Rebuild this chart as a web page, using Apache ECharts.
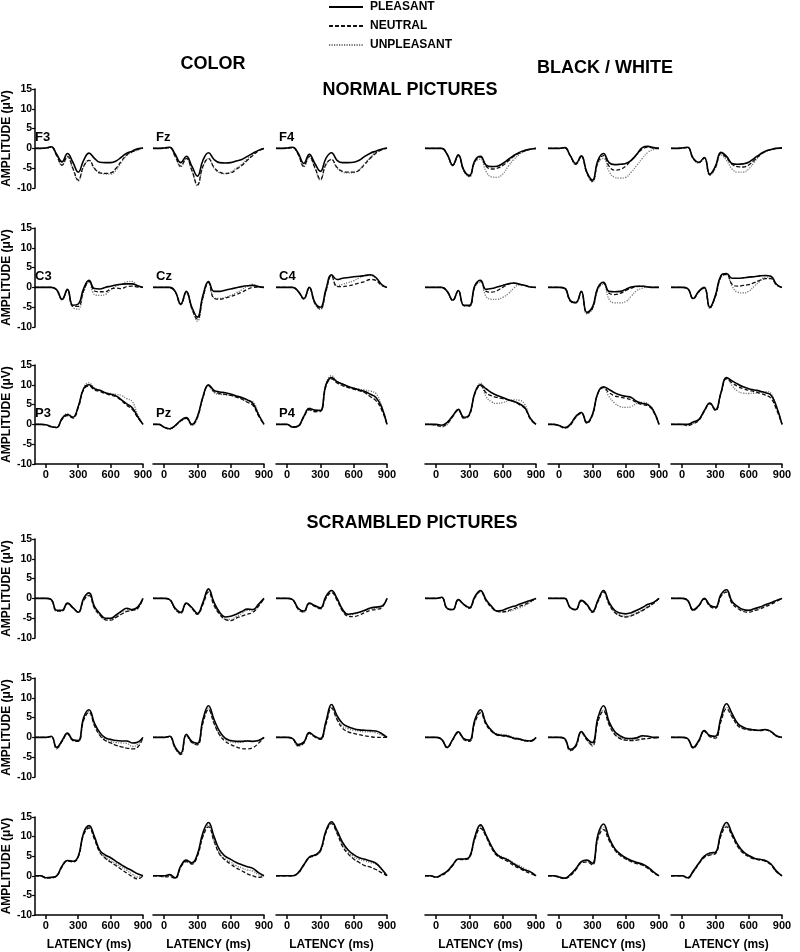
<!DOCTYPE html>
<html>
<head>
<meta charset="utf-8">
<script src="https://cdn.jsdelivr.net/npm/echarts@6/dist/echarts.min.js"></script>
<style>
  html, body { margin: 0; padding: 0; background: #fff; }
  #chart { width: 800px; height: 952px; }
</style>
</head>
<body>
<div id="chart"></div>
<script>
// latency samples (ms)
const latency = [-100, -50, 0, 50, 100, 150, 200, 250, 300, 350, 400, 450, 500, 550, 600, 650, 700, 750, 800, 850, 900]
const xTicks = [0, 300, 600, 900]
const conditions = ['PLEASANT', 'NEUTRAL', 'UNPLEASANT']
const electrodes = [['F3', 'Fz', 'F4'], ['C3', 'Cz', 'C4'], ['P3', 'Pz', 'P4']]

// each panel: [pleasant, neutral, unpleasant] amplitudes (µV)
// normal pictures, color
const normColF3 = [
  [0, 0, 0.1, 0.4, -1.5, -3.4, -1.3, -3.5, -6.0, -3.0, -1.2, -2.5, -3.5, -3.6, -3.6, -3.2, -2.2, -1.2, -0.7, -0.1, 0.1],
  [0, 0, 0.1, 0.3, -1.8, -4.2, -2.0, -5.0, -8.0, -4.5, -3.0, -5.0, -6.2, -6.3, -6.2, -5.0, -3.2, -1.6, -0.8, -0.3, 0.1],
  [0, 0, 0, 0.3, -1.8, -4.3, -2.2, -5.2, -8.2, -4.6, -3.0, -5.2, -6.0, -6.5, -6.5, -5.5, -3.5, -1.8, -1.0, -0.4, 0.1]
]
const normColFz = [
  [0, 0, 0.1, 0.3, -1.5, -3.6, -2.0, -4.5, -7.0, -3.0, -1.1, -2.8, -3.6, -3.7, -3.6, -3.2, -2.8, -2.0, -1.2, -0.5, 0],
  [0, 0, 0, 0.2, -2.0, -4.5, -2.5, -5.5, -9.2, -4.5, -2.6, -4.8, -6.0, -6.3, -6.2, -5.3, -4.3, -3.0, -1.8, -0.6, 0],
  [0, 0, 0, 0.2, -2.0, -4.6, -2.6, -5.7, -9.4, -4.7, -2.5, -5.0, -6.2, -6.4, -6.0, -5.0, -4.0, -2.6, -1.5, -0.5, 0]
]
const normColF4 = [
  [0, 0, 0.1, 0.3, -1.2, -3.8, -1.5, -3.8, -5.8, -2.5, -1.1, -3.0, -3.6, -3.6, -3.5, -3.0, -2.0, -1.2, -0.7, -0.2, 0.1],
  [0, 0, 0, 0.2, -1.5, -4.5, -2.0, -4.8, -7.8, -4.0, -2.8, -4.8, -5.8, -6.0, -6.0, -5.5, -4.0, -2.5, -1.2, -0.4, 0.1],
  [0, 0, 0, 0.2, -1.5, -4.6, -2.2, -5.0, -8.0, -4.2, -2.8, -5.0, -6.0, -6.2, -6.1, -5.3, -3.8, -2.2, -1.0, -0.3, 0.1]
]
const normColC3 = [
  [0, 0, 0, 0, -0.6, -3.0, -0.5, -4.5, -4.2, -0.3, 1.8, -0.3, -0.4, 0.0, 0.3, 0.6, 0.8, 0.9, 0.9, 0.4, 0],
  [0, 0, 0, 0, -0.6, -3.1, -0.6, -4.8, -4.8, -0.8, 1.5, -0.9, -1.1, -1.1, -0.4, -0.2, -0.3, 0.2, 0.3, 0.1, 0],
  [0, 0, 0, 0, -0.7, -3.2, -0.7, -5.0, -5.5, -1.2, 1.3, -1.8, -2.0, -1.8, -0.6, 0.3, 0.8, 1.4, 1.5, 0.3, 0]
]
const normColCz = [
  [0, 0, 0, 0, -1.0, -4.2, -1.0, -5.0, -7.5, -2.0, 1.5, -1.0, -1.0, -0.7, -0.4, -0.1, 0.2, 0.4, 0.5, 0.2, 0],
  [0, 0, 0, 0, -1.1, -4.3, -1.2, -5.3, -8.0, -2.5, 1.2, -2.8, -3.0, -2.7, -2.3, -1.8, -1.2, -0.5, 0, 0.1, 0],
  [0, 0, 0, 0, -1.2, -4.4, -1.3, -5.5, -8.5, -2.8, 1.3, -2.6, -2.8, -2.5, -2.0, -1.4, -0.6, 0.3, 0.8, 0.3, 0]
]
const normColC4 = [
  [0, 0, 0, 0, -1.0, -2.8, 0, -3.8, -5.0, -0.5, 3.2, 2.0, 2.3, 2.5, 2.7, 2.8, 3.0, 3.2, 2.5, 0.8, 0],
  [0, 0, 0, 0, -1.0, -2.9, -0.1, -4.0, -5.4, -0.9, 3.0, 0.2, 0.2, 0.4, 0.7, 1.1, 1.5, 2.0, 1.8, 0.5, 0],
  [0, 0, 0, 0, -1.1, -3.0, -0.2, -4.2, -5.6, -1.0, 3.0, 0.4, 0.8, 1.2, 1.7, 2.4, 2.9, 3.0, 2.3, 0.6, 0]
]
const normColP3 = [
  [0, 0, -0.1, -0.6, -0.8, 1.5, 2.5, 1.8, 4.5, 9.0, 10.0, 9.0, 8.6, 8.0, 7.6, 7.2, 6.2, 5.2, 4.2, 2.0, 0],
  [0, 0, -0.1, -0.6, -0.8, 1.3, 2.2, 1.6, 4.2, 8.8, 9.7, 8.7, 8.3, 7.8, 7.4, 7.0, 6.0, 4.8, 3.8, 1.8, 0],
  [0, 0, -0.1, -0.5, -0.7, 1.6, 2.7, 1.9, 4.6, 9.3, 10.5, 9.2, 8.5, 8.0, 7.8, 7.6, 7.3, 6.5, 5.8, 2.5, 0]
]
const normColPz = [
  [0, 0, -0.7, -1.1, -0.3, 1.0, 1.7, 0, 2.0, 7.0, 10.0, 8.6, 8.2, 8.0, 7.7, 7.2, 6.8, 6.2, 5.3, 2.5, 0],
  [0, 0, -0.7, -1.1, -0.3, 0.9, 1.5, -0.1, 1.8, 6.8, 9.8, 8.3, 7.8, 7.6, 7.3, 6.9, 6.4, 5.6, 4.8, 2.2, 0],
  [0, 0, -0.7, -1.2, -0.4, 0.8, 1.5, -0.3, 1.6, 6.8, 9.7, 8.0, 7.6, 7.5, 7.4, 7.0, 6.6, 6.0, 5.7, 2.8, 0]
]
const normColP4 = [
  [0, 0, 0, -0.7, -0.4, 2.0, 4.0, 3.6, 3.5, 10.0, 11.8, 10.8, 10.2, 9.6, 9.1, 8.7, 8.3, 7.6, 6.8, 4.5, 0],
  [0, 0, 0, -0.7, -0.5, 1.8, 3.7, 3.2, 3.3, 9.6, 11.5, 10.5, 9.8, 9.3, 8.9, 8.5, 8.0, 7.0, 6.0, 3.8, 0],
  [0, 0, 0, -0.6, -0.4, 2.1, 4.2, 3.5, 3.6, 10.2, 12.3, 10.9, 10.2, 9.6, 9.2, 8.9, 8.7, 8.4, 7.8, 4.8, 0]
]

// normal pictures, black / white
const normBwF3 = [
  [0, 0, 0, 0, -1.5, -4.2, -1.6, -5.5, -6.8, -3.0, -2.0, -4.2, -4.6, -4.5, -3.8, -2.8, -1.8, -1.0, -0.5, -0.2, 0],
  [0, 0, 0, 0, -1.5, -4.3, -1.8, -5.6, -7.0, -3.3, -2.2, -4.5, -5.2, -5.0, -4.3, -3.2, -2.0, -1.2, -0.6, -0.2, 0],
  [0, 0, 0, 0, -1.6, -4.4, -2.0, -5.8, -7.2, -3.5, -2.7, -5.8, -7.2, -7.3, -6.5, -4.5, -2.8, -1.5, -0.6, -0.2, 0]
]
const normBwFz = [
  [0, 0, 0, 0.2, -1.8, -3.8, -1.9, -6.0, -8.0, -3.0, -1.3, -3.6, -4.1, -4.0, -3.8, -3.0, -1.5, 0.2, 0.5, 0.2, 0],
  [0, 0, 0, 0.2, -1.8, -4.0, -2.0, -6.2, -8.3, -3.5, -1.8, -4.5, -5.5, -5.3, -4.5, -3.0, -1.5, -0.2, 0.3, 0.1, 0],
  [0, 0, 0, 0.2, -1.9, -4.1, -2.1, -6.3, -8.5, -3.8, -2.5, -5.8, -7.3, -7.5, -7.3, -6.0, -4.3, -2.5, -1.0, -0.3, 0]
]
const normBwF4 = [
  [0, 0, 0.1, 0.3, -2.5, -3.5, -2.3, -6.5, -4.5, -1.0, -2.0, -3.8, -4.0, -3.9, -3.5, -2.5, -1.5, -0.7, -0.3, 0, 0.1],
  [0, 0, 0.1, 0.2, -2.6, -3.6, -2.4, -6.7, -4.8, -1.3, -2.4, -4.0, -4.6, -4.7, -4.2, -3.0, -1.7, -0.8, -0.3, 0, 0.1],
  [0, 0, 0.1, 0.2, -2.6, -3.7, -2.5, -6.8, -5.0, -1.6, -3.0, -5.2, -6.0, -6.0, -5.2, -3.5, -1.8, -0.8, -0.3, 0, 0.1]
]
const normBwC3 = [
  [0, 0, 0, 0, -1.0, -3.2, -0.8, -4.5, -4.5, 0.5, 1.8, -0.5, -0.3, 0.1, 0.5, 0.9, 1.1, 0.8, 0.5, 0.1, 0],
  [0, 0, 0, 0, -1.0, -3.3, -0.9, -4.6, -4.7, 0.3, 1.6, -1.0, -1.2, -0.8, 0, 0.8, 1.1, 0.8, 0.5, 0.1, 0],
  [0, 0, 0, 0, -1.0, -3.3, -0.9, -4.7, -4.8, 0.2, 1.3, -2.3, -3.0, -3.0, -2.5, -1.6, -0.2, 0.6, 0.5, 0.1, 0]
]
const normBwCz = [
  [0, 0, 0, -0.2, -3.3, -3.8, -1.0, -6.3, -5.0, 0, 1.3, -1.0, -1.1, -1.0, -0.5, 0.1, 0.3, 0.3, 0.1, 0, 0],
  [0, 0, 0, -0.2, -3.4, -3.9, -1.1, -6.5, -5.3, -0.3, 1.1, -1.5, -1.8, -1.5, -0.8, -0.2, 0.2, 0.3, 0.1, 0, 0],
  [0, 0, 0, -0.2, -3.5, -4.0, -1.2, -6.7, -5.5, -0.5, 0.8, -3.0, -3.9, -3.9, -3.6, -2.2, -0.8, -0.2, 0, 0, 0]
]
const normBwC4 = [
  [0, 0, 0, -0.3, -2.8, -1.0, 0, -5.0, -2.0, 3.0, 3.5, 2.3, 2.3, 2.4, 2.6, 2.7, 2.9, 3.0, 2.8, 0.8, 0],
  [0, 0, 0, -0.3, -2.9, -1.1, -0.1, -5.1, -2.3, 2.7, 3.3, 0.8, 0.3, 0.5, 0.7, 1.2, 1.8, 2.2, 2.2, 0.6, 0],
  [0, 0, 0, -0.3, -2.9, -1.2, -0.2, -5.3, -2.5, 2.5, 3.2, 0.3, -1.2, -1.4, -1.0, 0.3, 1.5, 2.6, 2.6, 0.7, 0]
]
const normBwP3 = [
  [0, 0, 0, -0.2, 0.5, 2.2, 3.8, 1.8, 2.5, 8.0, 10.0, 9.0, 8.0, 7.3, 6.8, 6.2, 5.8, 5.2, 4.2, 1.5, 0],
  [0, 0, -0.2, -0.5, 0.2, 2.0, 3.6, 1.6, 2.3, 7.8, 9.8, 8.0, 7.2, 6.8, 6.5, 6.2, 5.8, 5.0, 4.0, 1.3, 0],
  [0, 0, -0.2, -0.6, 0, 2.0, 3.5, 1.5, 2.5, 8.2, 10.4, 7.0, 5.7, 5.3, 5.5, 6.0, 6.2, 6.1, 5.0, 1.5, 0]
]
const normBwPz = [
  [0, 0, -0.3, -0.8, 0, 2.0, 3.0, 0.5, 2.5, 8.0, 9.5, 8.8, 8.0, 7.4, 7.1, 6.8, 5.8, 5.3, 5.0, 3.5, 0],
  [0, 0, -0.3, -0.9, -0.2, 1.8, 2.8, 0.3, 2.3, 7.8, 9.3, 8.0, 7.2, 6.9, 6.6, 6.2, 5.5, 5.0, 4.7, 3.2, 0],
  [0, 0, -0.4, -1.0, -0.2, 1.8, 2.9, 0.3, 2.2, 8.0, 9.3, 7.0, 5.4, 4.5, 4.3, 4.5, 5.3, 5.6, 5.2, 3.5, 0]
]
const normBwP4 = [
  [0, 0, 0, 0, 0.6, 1.2, 3.5, 5.4, 3.7, 8.0, 11.8, 11.0, 10.2, 9.5, 9.0, 8.7, 8.4, 8.0, 7.4, 4.5, 0],
  [0, 0, 0, -0.3, 0.2, 1.0, 3.3, 5.2, 3.5, 7.8, 11.5, 10.5, 9.6, 9.0, 8.6, 8.3, 7.9, 7.4, 6.6, 3.8, 0],
  [0, 0, 0, -0.3, 0.3, 1.1, 3.4, 5.3, 3.6, 8.0, 11.8, 9.8, 8.4, 7.9, 7.8, 7.9, 8.0, 8.3, 7.8, 4.5, 0]
]

// scrambled pictures, color
const scrColF3 = [
  [0, 0, 0, -0.3, -3.0, -3.0, -1.2, -2.3, -3.5, 0, 1.4, -2.0, -3.8, -5.0, -5.0, -4.2, -3.2, -2.5, -2.8, -2.2, 0],
  [0, 0, 0, -0.3, -3.2, -3.2, -1.3, -2.4, -3.5, -0.5, 0.7, -2.5, -4.2, -5.4, -5.5, -4.8, -4.0, -3.3, -3.0, -2.6, 0],
  [0, 0, 0, -0.4, -3.3, -3.2, -1.3, -2.4, -3.5, -0.4, 0.9, -2.4, -4.2, -5.2, -5.2, -4.5, -3.5, -2.8, -3.0, -2.4, 0]
]
const scrColFz = [
  [0, 0, 0, -0.3, -2.5, -3.5, -1.2, -2.3, -3.8, -1.0, 2.4, -1.0, -3.5, -4.7, -4.5, -4.0, -3.3, -2.7, -2.8, -1.5, 0],
  [0, 0, 0, -0.3, -2.7, -3.7, -1.3, -2.5, -4.0, -1.5, 1.6, -1.8, -4.0, -5.3, -5.6, -5.0, -4.5, -4.0, -3.5, -2.0, 0],
  [0, 0, 0, -0.4, -2.8, -3.8, -1.3, -2.5, -4.0, -1.3, 2.0, -1.3, -4.0, -5.2, -5.3, -4.6, -3.8, -3.0, -3.2, -1.8, 0]
]
const scrColF4 = [
  [0, 0, 0, -0.3, -2.5, -3.2, -1.2, -1.8, -2.4, 0.5, 2.0, 0, -2.8, -4.0, -3.8, -3.5, -3.0, -2.4, -2.2, -2.0, 0],
  [0, 0, 0, -0.4, -2.7, -3.4, -1.3, -2.0, -2.6, 0, 1.5, -0.5, -3.2, -4.5, -4.6, -4.2, -3.6, -3.0, -2.8, -2.4, 0],
  [0, 0, 0, -0.4, -2.8, -3.5, -1.3, -1.9, -2.6, 0.2, 1.7, -0.3, -3.0, -4.2, -4.0, -3.6, -3.1, -2.6, -2.5, -2.1, 0]
]
const scrColC3 = [
  [0, 0, 0, 0.3, -2.5, -0.8, 1.1, -0.6, -0.8, 5.0, 7.0, 3.6, 1.2, -0.1, -0.5, -0.8, -0.9, -0.9, -1.4, -1.2, 0],
  [0, 0, 0, 0.2, -2.8, -1.0, 0.9, -0.8, -1.0, 4.3, 6.3, 3.0, 0.5, -0.8, -1.4, -2.0, -2.4, -2.7, -2.9, -2.5, 0],
  [0, 0, 0, 0.2, -2.9, -1.1, 0.8, -0.8, -1.0, 4.5, 6.5, 3.0, 0.7, -0.5, -1.0, -1.3, -1.4, -1.5, -2.3, -1.8, 0]
]
const scrColCz = [
  [0, 0, 0, 0.3, -2.5, -4.0, 0.8, -1.0, -1.5, 4.5, 8.0, 4.5, 1.5, -0.2, -0.8, -1.0, -1.0, -0.9, -1.0, -0.8, 0],
  [0, 0, 0, 0.2, -2.7, -4.3, 0.6, -1.3, -1.9, 3.6, 7.0, 3.5, 0.6, -1.0, -1.8, -2.4, -2.8, -2.9, -2.6, -1.5, 0],
  [0, 0, 0, 0.2, -2.8, -4.4, 0.5, -1.3, -1.8, 4.0, 7.3, 3.6, 0.8, -0.5, -1.1, -1.3, -1.2, -0.8, -1.0, -0.8, 0]
]
const scrColC4 = [
  [0, 0, 0, -0.3, -1.8, -1.2, 1.2, 0.3, -0.3, 4.0, 8.3, 5.5, 3.5, 2.7, 2.2, 1.9, 1.8, 1.7, 1.6, 1.0, 0],
  [0, 0, 0, -0.4, -2.1, -1.4, 1.0, 0.1, -0.5, 3.3, 7.4, 4.5, 2.3, 1.4, 1.0, 0.7, 0.4, 0.2, 0, 0, 0],
  [0, 0, 0, -0.4, -2.2, -1.5, 0.9, 0.1, -0.5, 3.5, 7.7, 4.8, 2.8, 2.2, 1.8, 1.6, 1.4, 1.4, 1.2, 0.6, 0]
]
const scrColP3 = [
  [0, 0, -0.5, -0.4, 0, 2.5, 3.9, 3.7, 5.0, 11.0, 12.8, 10.0, 6.5, 5.3, 4.6, 3.7, 2.8, 2.0, 1.3, 0.5, 0],
  [0, 0, -0.4, -0.5, -0.1, 2.3, 3.8, 3.5, 4.8, 10.5, 12.2, 9.3, 6.0, 4.5, 3.5, 2.6, 1.6, 0.7, -0.2, -0.8, 0],
  [0, 0, -0.6, -0.5, 0, 2.4, 3.8, 3.6, 4.9, 10.7, 12.5, 9.6, 6.0, 4.8, 3.9, 3.1, 2.2, 1.4, 0.4, -0.3, 0]
]
const scrColPz = [
  [0, 0, 0, 0.3, -0.5, 2.5, 4.0, 3.3, 5.5, 11.0, 13.6, 10.0, 6.6, 5.0, 4.2, 3.4, 2.8, 2.3, 1.9, 0.8, 0],
  [0, 0, -0.3, -0.2, -0.7, 2.2, 3.6, 3.0, 5.0, 10.0, 12.5, 8.8, 5.5, 4.0, 3.0, 2.0, 1.3, 0.5, 0, -0.4, 0],
  [0, 0, -0.2, 0, -0.6, 2.3, 3.8, 3.1, 5.2, 10.4, 13.0, 9.0, 5.8, 4.3, 3.5, 2.6, 2.0, 1.5, 1.2, 0.3, 0]
]
const scrColP4 = [
  [0, 0, 0, 0, 0.8, 2.8, 4.8, 5.3, 6.5, 11.5, 13.8, 11.5, 8.5, 6.6, 5.4, 4.6, 4.2, 3.8, 3.2, 1.8, 0],
  [0, 0, 0, 0, 0.7, 2.7, 4.6, 5.1, 6.3, 11.0, 13.3, 10.8, 7.5, 5.6, 4.3, 3.4, 2.6, 2.2, 1.6, 0.8, 0],
  [0, 0, 0, 0, 0.6, 2.6, 4.6, 5.2, 6.3, 11.2, 13.4, 11.0, 8.0, 6.0, 4.9, 4.2, 3.8, 3.4, 3.0, 1.6, 0]
]

// scrambled pictures, black / white
const scrBwF3 = [
  [0, 0, 0, 0.3, -2.5, -2.8, -0.3, -1.5, -2.3, 0.5, 2.0, -0.3, -2.0, -3.2, -3.0, -2.4, -2.0, -1.5, -1.0, -0.5, 0],
  [0, 0, 0, 0.2, -2.6, -2.9, -0.4, -1.6, -2.5, 0.2, 1.7, -0.6, -2.3, -3.3, -3.4, -3.1, -2.6, -2.0, -1.5, -0.8, 0],
  [0, 0, 0, 0.2, -2.6, -2.9, -0.4, -1.6, -2.5, 0.3, 1.8, -0.5, -2.2, -3.3, -3.4, -3.3, -2.9, -2.4, -1.8, -1.0, 0]
]
const scrBwFz = [
  [0, 0, 0, 0, -2.3, -2.8, -0.5, -1.5, -3.3, -0.5, 2.0, -1.0, -3.0, -3.7, -3.9, -3.6, -3.0, -2.3, -1.5, -1.0, 0],
  [0, 0, 0, 0, -2.4, -2.9, -0.6, -1.7, -3.5, -0.8, 1.6, -1.5, -3.5, -4.4, -4.7, -4.4, -3.8, -3.1, -2.2, -1.3, 0],
  [0, 0, 0, 0, -2.4, -2.9, -0.6, -1.7, -3.5, -0.7, 1.8, -1.3, -3.4, -4.2, -4.5, -4.2, -3.6, -2.9, -2.0, -1.2, 0]
]
const scrBwF4 = [
  [0, 0, 0, -0.5, -2.9, -1.8, 0, -1.7, -2.2, 1.0, 2.2, -0.8, -2.0, -2.8, -3.0, -2.6, -2.2, -1.6, -1.1, -0.5, 0],
  [0, 0, 0, -0.5, -3.0, -1.9, -0.2, -2.0, -2.5, 0.5, 1.6, -1.3, -2.5, -3.3, -3.5, -3.1, -2.7, -2.1, -1.5, -0.8, 0],
  [0, 0, 0, -0.5, -3.0, -1.9, -0.1, -1.8, -2.4, 0.7, 1.9, -1.0, -2.3, -3.1, -3.2, -2.9, -2.5, -1.9, -1.3, -0.6, 0]
]
const scrBwC3 = [
  [0, 0, 0, -0.5, -2.5, -0.5, 1.4, -0.3, -0.7, 4.5, 7.0, 3.6, 1.7, 0.7, 0.5, 0.3, -0.2, -0.4, -0.8, -0.9, 0],
  [0, 0, 0, -0.5, -2.6, -0.6, 1.2, -0.5, -1.0, 3.8, 6.2, 3.2, 1.5, 0.6, 0.4, 0.2, -0.3, -0.5, -0.9, -1.0, 0],
  [0, 0, 0, -0.5, -2.6, -0.6, 1.2, -0.5, -1.0, 4.0, 6.6, 3.6, 1.9, 0.9, 0.7, 0.5, 0, -0.3, -0.7, -0.8, 0]
]
const scrBwCz = [
  [0, 0, 0, -0.3, -3.0, -2.0, 1.5, -0.3, -1.3, 5.0, 8.0, 4.0, 1.5, 0.4, -0.2, -0.3, -0.1, 0.4, 0.3, 0, 0],
  [0, 0, 0, -0.4, -3.3, -2.3, 1.3, -0.6, -2.0, 4.0, 6.6, 3.2, 0.8, -0.3, -0.7, -0.8, -0.7, -0.4, -0.3, -0.1, 0],
  [0, 0, 0, -0.4, -3.4, -2.3, 1.2, -0.7, -2.2, 4.2, 6.9, 3.5, 1.0, 0, -0.5, -0.5, -0.3, 0.2, 0.3, 0, 0]
]
const scrBwC4 = [
  [0, 0, 0, -0.3, -2.5, -0.8, 1.7, 0.5, 0.3, 5.0, 8.5, 6.0, 3.6, 2.6, 2.1, 1.9, 1.8, 2.0, 1.5, 0.4, 0],
  [0, 0, 0, -0.4, -2.7, -1.0, 1.5, 0.2, -0.2, 4.0, 7.2, 5.2, 3.0, 2.2, 1.9, 1.8, 1.7, 1.9, 1.4, 0.3, 0],
  [0, 0, 0, -0.4, -2.7, -1.0, 1.5, 0.3, 0, 4.3, 7.6, 5.5, 3.3, 2.4, 2.0, 1.8, 1.7, 1.9, 1.4, 0.3, 0]
]
const scrBwP3 = [
  [0, 0, -0.3, 0.3, 1.2, 2.8, 4.3, 4.3, 4.8, 10.0, 13.0, 10.4, 7.5, 5.4, 4.6, 4.0, 3.0, 2.2, 1.5, 1.0, 0],
  [0, 0, -0.4, 0.1, 1.0, 2.6, 4.2, 4.1, 4.6, 9.4, 12.1, 10.0, 7.0, 5.1, 4.3, 3.6, 2.6, 1.9, 1.2, 0.6, 0],
  [0, 0, -0.4, 0.2, 1.1, 2.7, 4.2, 4.2, 4.7, 9.7, 12.5, 10.3, 7.4, 5.5, 4.8, 4.2, 3.3, 2.6, 1.8, 1.1, 0]
]
const scrBwPz = [
  [0, 0, -0.3, -0.6, 0.3, 1.8, 3.6, 4.0, 3.2, 10.5, 13.2, 9.7, 7.0, 5.6, 4.6, 3.9, 3.4, 3.0, 2.2, 1.0, 0],
  [0, 0, -0.4, -0.7, 0, 1.5, 3.3, 3.5, 2.8, 9.5, 11.8, 9.0, 6.6, 5.2, 4.3, 3.6, 3.1, 2.7, 1.9, 0.8, 0],
  [0, 0, -0.4, -0.6, 0.1, 1.6, 3.4, 3.8, 3.0, 10.0, 12.4, 9.4, 6.9, 5.5, 4.5, 3.8, 3.3, 2.9, 2.1, 0.9, 0]
]
const scrBwP4 = [
  [0, 0, 0, -0.5, 1.2, 3.2, 5.0, 5.8, 6.0, 11.0, 13.6, 10.8, 8.0, 6.2, 5.2, 4.5, 4.2, 3.9, 3.0, 1.2, 0],
  [0, 0, 0, -0.6, 1.0, 3.0, 4.7, 5.3, 5.6, 10.2, 12.5, 10.2, 7.5, 5.8, 4.9, 4.3, 4.0, 3.7, 2.8, 1.0, 0],
  [0, 0, 0, -0.6, 1.0, 3.0, 4.8, 5.5, 5.8, 10.6, 13.0, 10.5, 7.7, 6.0, 5.0, 4.4, 4.1, 3.9, 3.0, 1.1, 0]
]

// panel table: rows top->bottom, cols left->right
const panels = [
  [normColF3, normColFz, normColF4, normBwF3, normBwFz, normBwF4],
  [normColC3, normColCz, normColC4, normBwC3, normBwCz, normBwC4],
  [normColP3, normColPz, normColP4, normBwP3, normBwPz, normBwP4],
  [scrColF3, scrColFz, scrColF4, scrBwF3, scrBwFz, scrBwF4],
  [scrColC3, scrColCz, scrColC4, scrBwC3, scrBwCz, scrBwC4],
  [scrColP3, scrColPz, scrColP4, scrBwP3, scrBwPz, scrBwP4]
]

// layout (px)
const colLeft = [32, 153, 276, 425, 548, 671]
const colWidth = 111
const rowTop = [89, 228, 365, 539, 678, 817]
const rowHeight = 99
const FONT = '"Liberation Sans", Arial, Helvetica, sans-serif'

const lineStyles = [
  { color: '#000', width: 1.6, type: 'solid' },
  { color: '#111', width: 1.3, type: [4, 2] },
  { color: '#777', width: 1.3, type: [1.2, 1.3] }
]

const chart = echarts.init(document.getElementById('chart'))

const grid = []
const xAxis = []
const yAxis = []
const series = []
const graphic = []

panels.forEach((row, r) => {
  row.forEach((panel, c) => {
    const idx = grid.length
    grid.push({ left: colLeft[c], top: rowTop[r], width: colWidth, height: rowHeight })
    const showX = r === 2 || r === 5
    xAxis.push({
      type: 'value', gridIndex: idx, min: -100, max: 900,
      show: showX,
      splitLine: { show: false },
      axisLine: { onZero: false, lineStyle: { color: '#000', width: 1.5 } },
      axisTick: { customValues: xTicks, length: 4, lineStyle: { color: '#000', width: 1.5 } },
      axisLabel: { customValues: xTicks, color: '#000', fontFamily: FONT, fontWeight: 'bold', fontSize: 11, margin: 5 },
      name: r === 5 ? 'LATENCY (ms)' : '',
      nameLocation: 'middle', nameGap: 24,
      nameTextStyle: { color: '#000', fontFamily: FONT, fontWeight: 'bold', fontSize: 12 }
    })
    const showY = c === 0
    yAxis.push({
      type: 'value', gridIndex: idx, min: -10, max: 15, interval: 5,
      show: showY,
      splitLine: { show: false },
      axisLine: { show: true, onZero: false, lineStyle: { color: '#000', width: 1.5 } },
      axisTick: { show: true, length: 3, lineStyle: { color: '#000', width: 1.2 } },
      axisLabel: { color: '#000', fontFamily: FONT, fontWeight: 'bold', fontSize: 10.5, margin: 3 },
      name: 'AMPLITUDE (\u03bcV)',
      nameLocation: 'middle', nameGap: 19, nameRotate: 90,
      nameTextStyle: { color: '#000', fontFamily: FONT, fontWeight: 'bold', fontSize: 12 }
    })
    // draw unpleasant first so the solid line stays on top
    for (let k = 2; k >= 0; k--) {
      series.push({
        name: conditions[k],
        type: 'line',
        xAxisIndex: idx,
        yAxisIndex: idx,
        data: latency.map((t, i) => [t, panel[k][i]]),
        symbol: 'none',
        smooth: 0.45,
        silent: true,
        color: lineStyles[k].color,
        lineStyle: lineStyles[k]
      })
    }
    if (r < 3 && c < 3) {
      const zeroY = rowTop[r] + rowHeight * 15 / 25
      graphic.push({
        type: 'text', left: colLeft[c] + 3, top: zeroY - 17,
        style: { text: electrodes[r][c], fill: '#000', font: 'bold 13px ' + FONT }
      })
    }
  })
})

const headings = [
  { text: 'COLOR', x: 213, y: 64 },
  { text: 'BLACK / WHITE', x: 605, y: 68 },
  { text: 'NORMAL PICTURES', x: 410, y: 90 },
  { text: 'SCRAMBLED PICTURES', x: 412, y: 523 }
]
headings.forEach(h => {
  graphic.push({
    type: 'text', x: h.x, y: h.y,
    style: { text: h.text, fill: '#000', font: 'bold 18px ' + FONT, textAlign: 'center', textVerticalAlign: 'middle' }
  })
})

chart.setOption({
  animation: false,
  backgroundColor: '#fff',
  legend: {
    data: conditions,
    orient: 'vertical',
    left: 328, top: 1,
    padding: 0,
    itemWidth: 34, itemHeight: 12, itemGap: 7,
    selectedMode: false,
    itemStyle: { opacity: 0 },
    textStyle: { color: '#000', fontFamily: FONT, fontWeight: 'bold', fontSize: 12, padding: [0, 0, 0, 2] }
  },
  grid,
  xAxis,
  yAxis,
  series,
  graphic
})
</script>
</body>
</html>
